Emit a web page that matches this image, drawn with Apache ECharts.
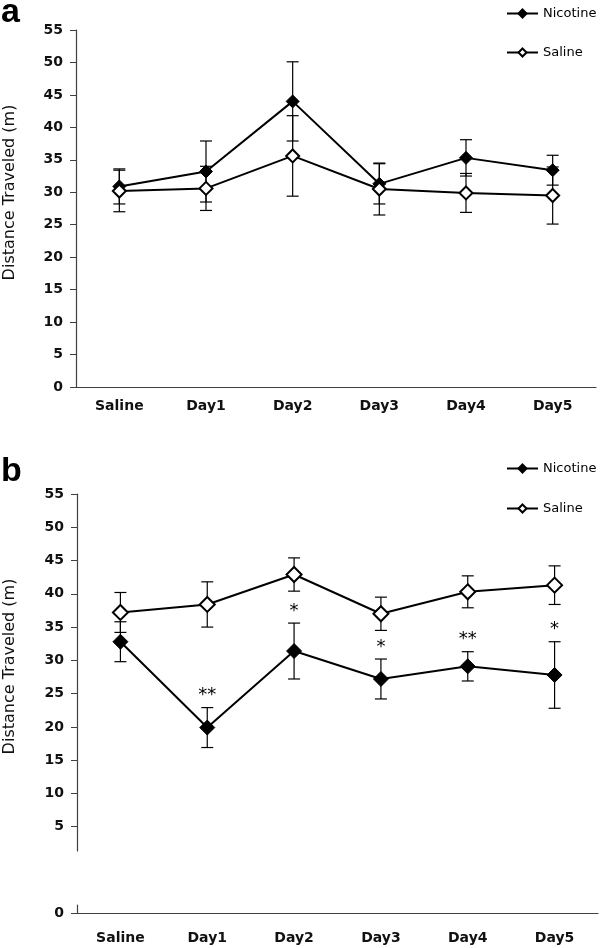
<!DOCTYPE html>
<html>
<head>
<meta charset="utf-8">
<script src="https://cdn.jsdelivr.net/npm/echarts@6/dist/echarts.min.js"></script>
<style>
html,body{margin:0;padding:0;background:#fff;}
#main{width:600px;height:948px;}
</style>
</head>
<body>
<div id="main"></div>
<script>
// categories + tick labels
var days = ['Saline', 'Day1', 'Day2', 'Day3', 'Day4', 'Day5'];
var yTicksB = [5, 10, 15, 20, 25, 30, 35, 40, 45, 50, 55];

// panel a (means, sem)
var nicA = [30.9, 33.2, 44.0, 31.3, 35.3, 33.4];
var nicA_sem = [2.7, 4.7, 6.1, 3.1, 2.8, 2.3];
var salA = [30.2, 30.6, 35.6, 30.5, 29.9, 29.5];
var salA_sem = [3.2, 3.4, 6.2, 4.0, 3.0, 4.4];

// panel b (means, sem, significance)
var nicB = [32.8, 19.9, 31.4, 27.2, 29.1, 27.8];
var nicB_sem = [3.0, 3.0, 4.2, 3.0, 2.2, 5.0];
var salB = [37.2, 38.4, 42.9, 37.0, 40.3, 41.3];
var salB_sem = [3.0, 3.4, 2.5, 2.5, 2.4, 2.9];
var sigB = ['', '**', '*', '*', '**', '*'];

var axisCol = '#404040';
var txtCol = '#111';
var boldLbl = {fontSize: 14, fontWeight: 'bold', fontFamily: 'DejaVu Sans', color: txtCol};

function errData(m, s) {
	var out = [];
	for (var i = 0; i < m.length; i++) {
		out.push([i, m[i] - s[i], m[i] + s[i]]);
	}
	return out;
}

function makeErr(stars) {
	return function (params, api) {
		var i = api.value(0);
		var top = api.coord([i, api.value(2)]);
		var bot = api.coord([i, api.value(1)]);
		var w = 6;
		var st = {stroke: '#000', lineWidth: 1.2};
		var kids = [
			{type: 'line', shape: {x1: top[0], y1: top[1], x2: bot[0], y2: bot[1]}, style: st},
			{type: 'line', shape: {x1: top[0] - w, y1: top[1], x2: top[0] + w, y2: top[1]}, style: st},
			{type: 'line', shape: {x1: bot[0] - w, y1: bot[1], x2: bot[0] + w, y2: bot[1]}, style: st}
		];
		if (stars && stars[params.dataIndex]) {
			kids.push({
				type: 'text', x: top[0], y: top[1] - 12,
				style: {text: stars[params.dataIndex], align: 'center', verticalAlign: 'middle',
					fontSize: 18, fontFamily: 'DejaVu Sans', fill: '#000'}
			});
		}
		return {type: 'group', children: kids};
	};
}

function lineSeries(name, data, xi, yi, filled, size) {
	return {
		name: name,
		type: 'line',
		xAxisIndex: xi,
		yAxisIndex: yi,
		data: data,
		symbol: 'diamond',
		symbolSize: size,
		z: 5,
		lineStyle: {color: '#000', width: 2},
		itemStyle: filled ? {color: '#000', borderColor: '#000', borderWidth: 1}
			: {color: '#fff', borderColor: '#000', borderWidth: 2}
	};
}

function errSeries(m, s, xi, yi, stars) {
	return {
		type: 'custom',
		xAxisIndex: xi,
		yAxisIndex: yi,
		renderItem: makeErr(stars),
		encode: {x: 0, y: [1, 2]},
		data: errData(m, s),
		z: 2
	};
}

var xBase = {
	type: 'category',
	data: days,
	axisLine: {lineStyle: {color: axisCol, width: 1.2}},
	axisTick: {length: 5, lineStyle: {color: axisCol}},
	axisLabel: boldLbl
};

var nameStyle = {fontSize: 16, fontFamily: 'DejaVu Sans', color: txtCol};

var chart = echarts.init(document.getElementById('main'));
var option = {
	animation: false,
	backgroundColor: '#fff',
	title: [
		{text: 'a', left: 1, top: -4, padding: 0,
			textStyle: {fontSize: 34, fontWeight: 'bold', fontFamily: 'Liberation Sans', color: '#000'}},
		{text: 'b', left: 1, top: 455, padding: 0,
			textStyle: {fontSize: 34, fontWeight: 'bold', fontFamily: 'Liberation Sans', color: '#000'}}
	],
	legend: [
		{data: ['Nicotine', 'Saline'], orient: 'vertical', left: 506, top: 7, padding: 0,
			itemWidth: 31, itemHeight: 10, itemGap: 26,
			textStyle: {fontSize: 13, fontFamily: 'DejaVu Sans', color: '#000'}},
		{data: ['Nicotine', 'Saline'], orient: 'vertical', left: 506, top: 462, padding: 0,
			itemWidth: 31, itemHeight: 10, itemGap: 27,
			textStyle: {fontSize: 13, fontFamily: 'DejaVu Sans', color: '#000'}}
	],
	grid: [
		{left: 76, right: 4, top: 30, height: 357, outerBoundsMode: 'none', containLabel: false},
		{left: 77, right: 2, top: 494, height: 357, outerBoundsMode: 'none', containLabel: false},
		{left: 77, right: 2, top: 905, height: 8, outerBoundsMode: 'none', containLabel: false}
	],
	xAxis: [
		echarts.util.merge({gridIndex: 0, axisLabel: {margin: 12}}, xBase, false),
		{gridIndex: 1, type: 'category', data: days, show: false},
		echarts.util.merge({gridIndex: 2, axisLabel: {margin: 18}}, xBase, false)
	],
	yAxis: [
		{
			gridIndex: 0, type: 'value', min: 0, max: 55, interval: 5,
			name: 'Distance Traveled (m)', nameLocation: 'middle', nameGap: 58,
			nameTextStyle: echarts.util.merge({padding: [0, 0, 0, 32]}, nameStyle),
			axisLine: {show: true, lineStyle: {color: axisCol, width: 1.2}},
			axisTick: {show: true, length: 6, lineStyle: {color: axisCol}},
			axisLabel: echarts.util.merge({margin: 13}, boldLbl),
			splitLine: {show: false}
		},
		{
			gridIndex: 1, type: 'value', min: 1.35, max: 55,
			name: 'Distance Traveled (m)', nameLocation: 'middle', nameGap: 59,
			nameTextStyle: echarts.util.merge({padding: [0, 0, 0, 12]}, nameStyle),
			axisLine: {show: true, lineStyle: {color: axisCol, width: 1.2}},
			axisTick: {show: true, length: 6, customValues: yTicksB, lineStyle: {color: axisCol}},
			axisLabel: echarts.util.merge({margin: 13, customValues: yTicksB}, boldLbl),
			splitLine: {show: false}
		},
		{
			gridIndex: 2, type: 'value', min: 0, max: 1,
			axisLine: {show: true, lineStyle: {color: axisCol, width: 1.2}},
			axisTick: {show: true, length: 6, customValues: [0], lineStyle: {color: axisCol}},
			axisLabel: echarts.util.merge({margin: 13, customValues: [0]}, boldLbl),
			splitLine: {show: false}
		}
	],
	series: [
		errSeries(nicA, nicA_sem, 0, 0),
		errSeries(salA, salA_sem, 0, 0),
		lineSeries('Nicotine', nicA, 0, 0, true, 13),
		lineSeries('Saline', salA, 0, 0, false, 13),
		errSeries(nicB, nicB_sem, 1, 1, sigB),
		errSeries(salB, salB_sem, 1, 1),
		lineSeries('Nicotine', nicB, 1, 1, true, 15),
		lineSeries('Saline', salB, 1, 1, false, 15)
	]
};
chart.setOption(option);
</script>
</body>
</html>
